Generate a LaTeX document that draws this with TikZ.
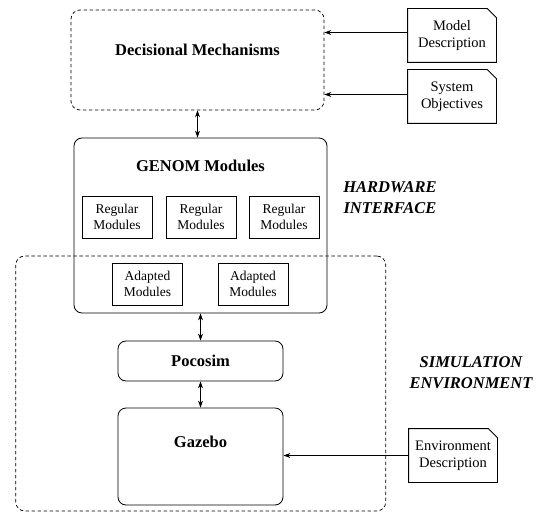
\documentclass[tikz,border=0pt]{standalone}
\usepackage{fontspec}
\setmainfont{Liberation Serif}
\usepackage{tikz}
\usetikzlibrary{arrows.meta, positioning}
\newcommand{\titlefont}{\fontsize{16.5}{20}\selectfont\bfseries}
\newcommand{\smallfont}{\fontsize{13.5}{16.7}\selectfont}
\newcommand{\notefont}{\fontsize{14.5}{16.7}\selectfont}
\tikzset{
		main block/.style={draw, rounded corners=8pt, line width=0.8pt},
		dashed block/.style={draw, rounded corners=9pt, line width=0.7pt, dash pattern=on 3.5pt off 2.5pt},
		module box/.style={draw, line width=0.8pt, minimum width=70pt, minimum height=42pt, align=center, font=\smallfont, inner sep=1pt},
		doc note/.style={minimum width=88pt, minimum height=53pt, align=center, font=\notefont, inner sep=1pt},
		zone label/.style={align=center, font=\titlefont\itshape}
	}

\begin{document}
\begin{tikzpicture}[x=1pt, y=-1pt, >={Stealth[length=7pt, width=5pt]}, line width=0.8pt]
				\useasboundingbox (0,0) rectangle (538,513);
				% zones
				\node[dashed block, minimum width=370pt, minimum height=255pt] (sim) at (200.75,383.5) {};
				\node[dashed block, minimum width=253pt, minimum height=100pt,
					label={[anchor=center, yshift=-40pt, font=\titlefont]north:Decisional Mechanisms}] (decis) at (197.5,60) {};
				% GenoM layer
				\node[main block, minimum width=253pt, minimum height=175pt,
					label={[anchor=center, yshift=-28pt, font=\titlefont]north:GENOM Modules}] (genom) at (200.5,225.5) {};
				\node[module box] (reg1) at (117,217) {Regular\\Modules};
				\node[module box] (reg2) at (201,217) {Regular\\Modules};
				\node[module box] (reg3) at (284,217) {Regular\\Modules};
				\node[module box] (adp1) at (147.5,284) {Adapted\\Modules};
				\node[module box] (adp2) at (253,284) {Adapted\\Modules};
				% simulator
				\node[main block, minimum width=165pt, minimum height=40pt, font=\titlefont] (pocosim) at (200.5,361) {Pocosim};
				\node[main block, minimum width=165pt, minimum height=97pt,
					label={[anchor=center, yshift=-34pt, font=\titlefont]north:Gazebo}] (gazebo) at (200.5,456.5) {};
				% inputs
				\node[doc note] (model)   at (452,35.5)  {Model\\Description};
				\node[doc note] (goals)   at (452,96.5)  {System\\Objectives};
				\node[doc note] (envdesc) at (453,455.5) {Environment\\Description};
				\foreach \n in {model, goals, envdesc}
					\draw (\n.north west) -- ([xshift=-9pt]\n.north east) -- ([yshift=-9pt]\n.north east)
						-- (\n.south east) -- (\n.south west) -- cycle;
				% zone names
				\node[zone label] (hw)  at (390,197.5) {HARDWARE\\[1pt]INTERFACE};
				\node[zone label, font=\fontsize{16.5}{21}\selectfont\bfseries\itshape] (simtxt) at (471,372.5) {SIMULATION\\ENVIRONMENT};
				% links
				\draw[<->] (decis.south) -- (decis.south |- genom.north);
				\draw[<->] (genom.south) -- (pocosim.north);
				\draw[<->] (pocosim.south) -- (gazebo.north);
				\draw[->] ([yshift=3pt]model.west) -- ([yshift=3pt]model.west -| decis.east);
				\draw[->] ([yshift=2pt]goals.west) -- ([yshift=2pt]goals.west -| decis.east);
				\draw[->] (envdesc.west) -- (envdesc.west -| gazebo.east);
			\end{tikzpicture}
\end{document}
